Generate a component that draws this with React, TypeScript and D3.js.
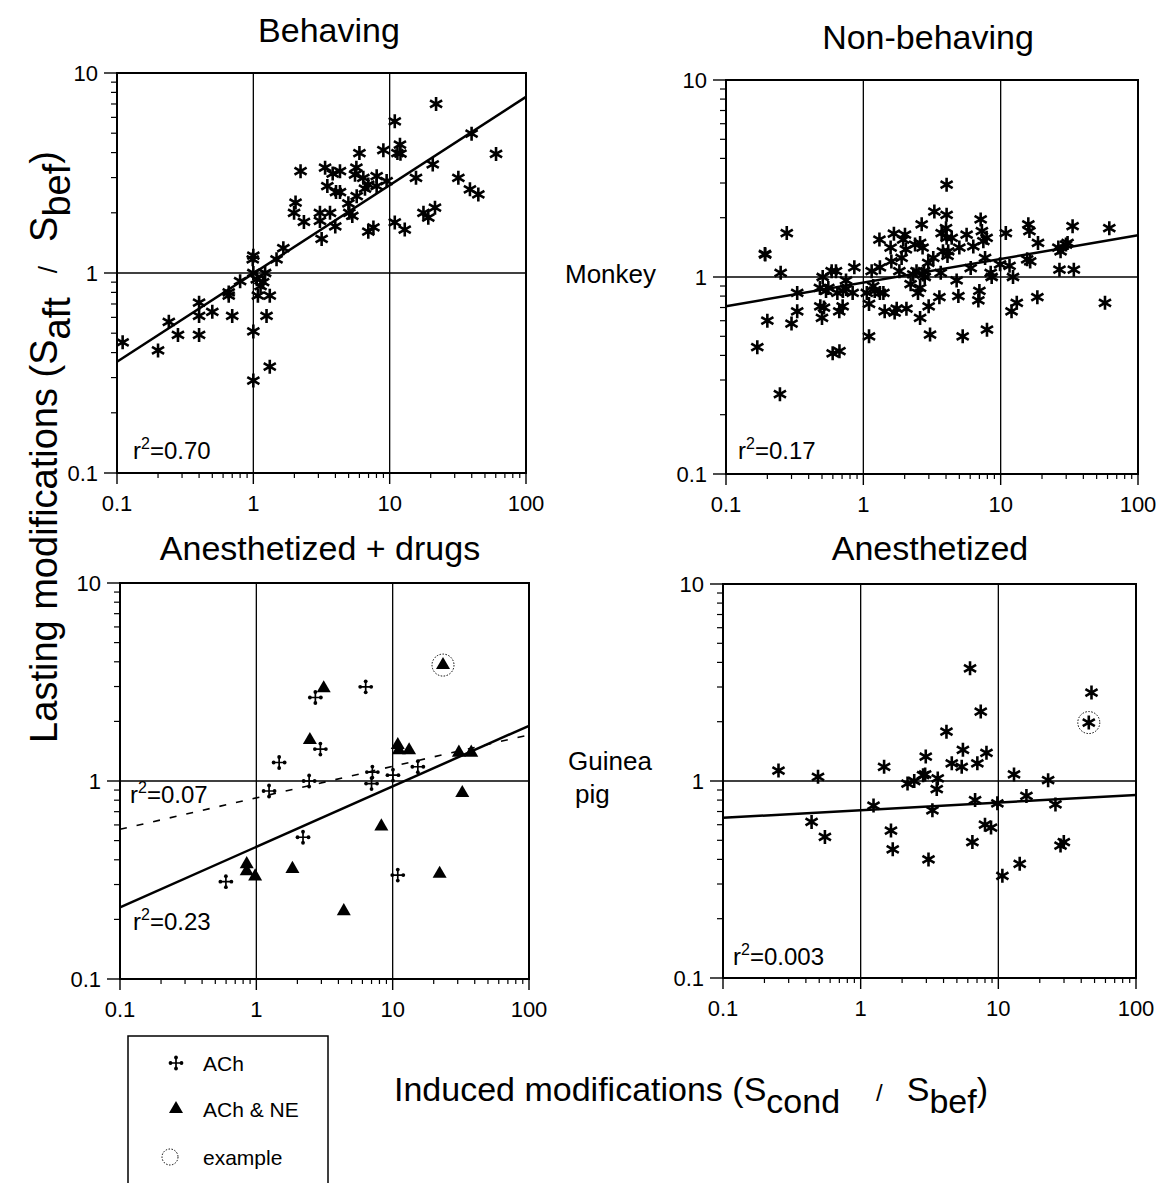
import React, { useEffect, useRef } from "react";
import * as d3 from "d3";

// values: [induced (Scond/Sbef), lasting (Saft/Sbef)]
type Pt = [number, number];

const behaving: Pt[] = [
  [0.11, 0.45], [0.2, 0.41], [0.24, 0.57], [0.28, 0.49], [0.4, 0.71], [0.4, 0.61], [0.4, 0.49],
  [0.5, 0.64], [0.66, 0.77], [0.66, 0.8], [0.7, 0.61], [0.8, 0.91], [0.99, 1.17], [1.0, 1.22],
  [1.0, 1.0], [1.0, 0.51], [1.0, 0.29], [1.06, 0.93], [1.08, 0.77], [1.13, 0.86], [1.18, 0.9],
  [1.22, 1.0], [1.32, 0.77], [1.25, 0.61], [1.32, 0.34], [1.48, 1.17], [1.66, 1.33], [2.04, 2.25],
  [1.99, 2.0], [2.22, 3.23], [2.35, 1.8], [3.08, 2.0], [3.08, 1.82], [3.17, 1.48], [3.36, 3.36],
  [3.49, 2.72], [3.65, 2.0], [3.82, 3.14], [4.04, 2.54], [4.32, 3.23], [4.32, 2.54], [3.99, 1.71],
  [4.98, 2.23], [5.06, 2.0], [5.32, 1.93], [5.73, 2.42], [5.7, 3.36], [6.0, 3.98], [5.57, 3.1],
  [6.41, 2.99], [6.59, 2.64], [6.97, 2.77], [6.97, 1.61], [7.6, 1.69], [8.03, 3.05], [8.03, 2.72],
  [8.99, 4.11], [9.5, 2.88], [10.9, 5.73], [10.9, 1.79], [11.4, 3.98], [11.9, 4.38], [12.0, 3.95],
  [12.9, 1.65], [15.6, 2.99], [17.7, 2.0], [19.2, 1.89], [20.7, 3.49], [21.5, 2.12], [21.9, 7.0],
  [31.9, 2.99], [38.8, 2.62], [39.9, 4.97], [44.7, 2.47], [60.3, 3.94],
];

const nonBehaving: Pt[] = [
  [0.169, 0.44], [0.192, 1.31], [0.193, 1.3], [0.2, 0.6], [0.247, 0.254], [0.25, 1.05], [0.277, 1.67],
  [0.3, 0.58], [0.33, 0.83], [0.33, 0.67], [0.483, 0.88], [0.486, 0.71], [0.5, 0.62], [0.506, 1.0],
  [0.517, 0.7], [0.535, 0.85], [0.556, 0.88], [0.588, 1.07], [0.598, 0.41], [0.632, 1.07],
  [0.647, 0.83], [0.668, 0.67], [0.67, 0.42], [0.707, 0.71], [0.71, 0.85], [0.748, 0.96],
  [0.75, 0.87], [0.836, 0.83], [0.86, 1.12], [1.06, 0.83], [1.1, 0.73], [1.1, 0.5], [1.15, 1.07],
  [1.18, 0.9], [1.21, 0.85], [1.31, 1.55], [1.32, 1.12], [1.32, 0.83], [1.4, 0.83], [1.43, 0.67],
  [1.58, 1.41], [1.6, 1.2], [1.67, 1.66], [1.69, 0.66], [1.75, 0.69], [1.83, 1.07], [1.9, 1.25],
  [1.95, 1.55], [2.01, 1.64], [2.04, 1.38], [2.06, 0.69], [2.21, 0.92], [2.31, 1.03], [2.38, 1.46],
  [2.44, 1.07], [2.5, 0.83], [2.59, 1.49], [2.59, 0.88], [2.66, 1.85], [2.7, 1.41], [2.72, 1.03],
  [2.77, 1.07], [2.8, 1.0], [2.59, 0.62], [2.97, 1.18], [2.99, 0.71], [3.06, 0.51], [3.23, 1.25],
  [3.29, 2.15], [3.58, 0.79], [3.66, 1.05], [3.72, 1.67], [3.8, 1.35], [4.0, 1.77], [4.04, 2.94],
  [4.04, 2.07], [4.04, 1.58], [4.1, 1.28], [4.15, 1.35], [4.4, 1.58], [4.78, 0.96], [4.92, 0.8],
  [5.0, 1.41], [5.29, 0.5], [5.65, 1.64], [6.05, 1.11], [6.32, 1.43], [6.88, 0.76], [7.0, 0.85],
  [7.15, 1.96], [7.3, 1.71], [7.48, 1.52], [7.7, 1.25], [7.9, 1.58], [7.95, 0.54], [8.46, 1.05],
  [8.6, 1.0], [9.9, 1.16], [10.9, 1.67], [11.6, 1.14], [12.0, 0.67], [12.3, 1.0], [13.1, 0.74],
  [15.6, 1.23], [15.9, 1.85], [16.2, 1.71], [16.4, 1.2], [18.5, 0.79], [18.7, 1.49], [26.3, 1.41],
  [26.8, 1.09], [27.3, 1.35], [29.9, 1.46], [30.7, 1.49], [33.4, 1.81], [34.1, 1.09], [57.5, 0.74],
  [61.8, 1.77],
];

const achOnly: Pt[] = [
  [0.598, 0.31], [1.24, 0.89], [1.47, 1.24], [2.2, 0.52], [2.44, 1.0], [2.71, 2.64], [2.95, 1.45],
  [6.34, 2.99], [7.1, 1.11], [7.0, 0.97], [10.05, 1.07], [10.9, 0.335], [15.3, 1.18],
];

const achNe: Pt[] = [
  [3.12, 2.94], [2.47, 1.61], [0.85, 0.38], [0.85, 0.35], [0.98, 0.33], [1.84, 0.36], [4.38, 0.22],
  [8.26, 0.59], [10.9, 1.52], [11.1, 1.43], [13.2, 1.43], [22.1, 0.34], [23.4, 3.85], [30.6, 1.39],
  [37.7, 1.39], [32.4, 0.87],
];

const anesthetized: Pt[] = [
  [0.253, 1.13], [0.49, 1.05], [0.44, 0.62], [0.55, 0.52], [1.24, 0.75], [1.48, 1.18], [1.66, 0.56],
  [1.71, 0.45], [2.19, 0.97], [2.45, 1.0], [2.84, 1.07], [2.97, 1.33], [2.94, 1.08], [3.11, 0.4],
  [3.32, 0.71], [3.63, 1.03], [3.57, 0.91], [4.2, 1.78], [4.59, 1.23], [5.42, 1.18], [5.53, 1.44],
  [6.23, 3.73], [6.48, 0.49], [6.78, 0.8], [7.04, 1.23], [7.45, 2.25], [8.0, 0.6], [8.2, 1.39],
  [8.85, 0.58], [9.84, 0.77], [10.7, 0.33], [13.0, 1.08], [14.3, 0.38], [16.0, 0.84], [23.0, 1.01],
  [26.0, 0.76], [28.3, 0.47], [29.9, 0.49], [47.5, 2.81], [45.4, 1.98],
];

// circled "example" cells
const drugsExample: Pt[] = [[23.4, 3.85]];
const anesthExample: Pt[] = [[45.4, 1.98]];

// regression lines, end points at x = 0.1 and x = 100
const behavingFit: Pt[] = [[0.1, 0.36], [100, 7.6]];
const nonBehavingFit: Pt[] = [[0.1, 0.71], [100, 1.63]];
const drugsFitSolid: Pt[] = [[0.1, 0.23], [100, 1.9]];
const drugsFitDashed: Pt[] = [[0.1, 0.57], [100, 1.71]];
const anesthFit: Pt[] = [[0.1, 0.65], [100, 0.85]];

const xTicks = [0.1, 1, 10, 100];
const yTicks = [0.1, 1, 10];
const tickLabel = (v: number) => (v < 1 ? "0.1" : String(v));

const FONT = "'Liberation Sans', Arial, Helvetica, sans-serif";

const panels = [
  {
    title: "Behaving", titleX: 329, titleY: 42,
    box: { left: 117, right: 526, top: 73, bottom: 473 },
    series: [{ data: behaving, marker: "star" }],
    fits: [{ line: behavingFit, dash: null }],
    examples: [] as Pt[],
    r2: [{ text: "0.70", dx: 16, y: 459 }],
  },
  {
    title: "Non-behaving", titleX: 928, titleY: 49,
    box: { left: 726, right: 1138, top: 80, bottom: 474 },
    series: [{ data: nonBehaving, marker: "star" }],
    fits: [{ line: nonBehavingFit, dash: null }],
    examples: [] as Pt[],
    r2: [{ text: "0.17", dx: 12, y: 459 }],
  },
  {
    title: "Anesthetized + drugs", titleX: 320, titleY: 560,
    box: { left: 120, right: 529, top: 583, bottom: 979 },
    series: [{ data: achOnly, marker: "cross" }, { data: achNe, marker: "triangle" }],
    fits: [{ line: drugsFitSolid, dash: null }, { line: drugsFitDashed, dash: "7,10" }],
    examples: drugsExample,
    r2: [{ text: "0.07", dx: 10, y: 803 }, { text: "0.23", dx: 13, y: 930 }],
  },
  {
    title: "Anesthetized", titleX: 930, titleY: 560,
    box: { left: 723, right: 1136, top: 584, bottom: 978 },
    series: [{ data: anesthetized, marker: "star" }],
    fits: [{ line: anesthFit, dash: null }],
    examples: anesthExample,
    r2: [{ text: "0.003", dx: 10, y: 965 }],
  },
];

// 6-armed asterisk like the printed one
const starPath = (() => {
  const r = 7;
  const c = r * Math.cos(Math.PI / 6), s = r * Math.sin(Math.PI / 6);
  return `M0,${-r}L0,${r}M${-c},${-s}L${c},${s}M${-c},${s}L${c},${-s}`;
})();

function drawMarker(g: any, kind: string) {
  if (kind === "star") {
    g.append("path").attr("d", starPath).attr("stroke", "#000").attr("stroke-width", 2.6).attr("fill", "none");
  } else if (kind === "cross") {
    g.append("path").attr("d", "M-6,0H6M0,-6V6").attr("stroke", "#000").attr("stroke-width", 1.7);
    [[-5.5, 0], [5.5, 0], [0, -5.5], [0, 5.5]].forEach(([cx, cy]) =>
      g.append("circle").attr("cx", cx).attr("cy", cy).attr("r", 1.9).attr("fill", "#000"));
  } else {
    g.append("path").attr("d", d3.symbol().type(d3.symbolTriangle).size(85)()).attr("fill", "#000");
  }
}

function drawPanel(svg: any, p: any) {
  const { left, right, top, bottom } = p.box;
  const x = d3.scaleLog().domain([0.1, 100]).range([left, right]);
  const y = d3.scaleLog().domain([0.1, 10]).range([bottom, top]);
  const g = svg.append("g");

  // title
  g.append("text").attr("x", p.titleX).attr("y", p.titleY).attr("text-anchor", "middle")
    .attr("font-size", 34).text(p.title);

  // minor ticks (outside, left and bottom)
  const minorX = d3.range(-1, 2).flatMap((e) => d3.range(2, 10).map((m) => m * 10 ** e));
  const minorY = d3.range(-1, 1).flatMap((e) => d3.range(2, 10).map((m) => m * 10 ** e));
  g.selectAll(".mx").data(minorX).enter().append("line")
    .attr("x1", (d: number) => x(d)).attr("x2", (d: number) => x(d))
    .attr("y1", bottom).attr("y2", bottom + 5).attr("stroke", "#000").attr("stroke-width", 1.2);
  g.selectAll(".my").data(minorY).enter().append("line")
    .attr("y1", (d: number) => y(d)).attr("y2", (d: number) => y(d))
    .attr("x1", left - 6).attr("x2", left).attr("stroke", "#000").attr("stroke-width", 1.2);

  // major ticks + labels
  g.selectAll(".tx").data(xTicks).enter().append("line")
    .attr("x1", (d: number) => x(d)).attr("x2", (d: number) => x(d))
    .attr("y1", bottom).attr("y2", bottom + 11).attr("stroke", "#000").attr("stroke-width", 1.4);
  g.selectAll(".lx").data(xTicks).enter().append("text")
    .attr("x", (d: number) => x(d)).attr("y", bottom + 38).attr("text-anchor", "middle")
    .attr("font-size", 22).text(tickLabel);
  g.selectAll(".ty").data(yTicks).enter().append("line")
    .attr("y1", (d: number) => y(d)).attr("y2", (d: number) => y(d))
    .attr("x1", left - 13).attr("x2", left).attr("stroke", "#000").attr("stroke-width", 1.4);
  g.selectAll(".ly").data(yTicks).enter().append("text")
    .attr("x", left - 19).attr("y", (d: number) => y(d)).attr("dy", "0.36em").attr("text-anchor", "end")
    .attr("font-size", 22).text(tickLabel);

  // grid at 1 and 10
  g.selectAll(".gx").data([1, 10]).enter().append("line")
    .attr("x1", (d: number) => x(d)).attr("x2", (d: number) => x(d))
    .attr("y1", top).attr("y2", bottom).attr("stroke", "#000").attr("stroke-width", 1.3);
  g.append("line").attr("x1", left).attr("x2", right).attr("y1", y(1)).attr("y2", y(1))
    .attr("stroke", "#000").attr("stroke-width", 1.3);

  // frame
  g.append("rect").attr("x", left).attr("y", top).attr("width", right - left).attr("height", bottom - top)
    .attr("fill", "none").attr("stroke", "#000").attr("stroke-width", 2);

  // regression lines
  const line = d3.line<Pt>().x((d) => x(d[0])).y((d) => y(d[1]));
  p.fits.forEach((f: any) => {
    g.append("path").attr("d", line(f.line)).attr("fill", "none").attr("stroke", "#000")
      .attr("stroke-width", f.dash ? 1.6 : 2.5).attr("stroke-dasharray", f.dash);
  });

  // points
  p.series.forEach((s: any) => {
    s.data.forEach((d: Pt) => {
      const m = g.append("g").attr("transform", `translate(${x(d[0])},${y(d[1])})`);
      drawMarker(m, s.marker);
    });
  });

  // example circles
  p.examples.forEach((d: Pt) => {
    g.append("circle").attr("cx", x(d[0])).attr("cy", y(d[1])).attr("r", 11)
      .attr("fill", "none").attr("stroke", "#000").attr("stroke-width", 1).attr("stroke-dasharray", "1.5,1.5");
  });

  // r^2 labels
  p.r2.forEach((r: any) => {
    const t = g.append("text").attr("x", left + r.dx).attr("y", r.y).attr("font-size", 24);
    t.append("tspan").text("r");
    t.append("tspan").attr("font-size", 16).attr("dy", -10).text("2");
    t.append("tspan").attr("dy", 10).text("=" + r.text);
  });
}

function drawLabels(svg: any) {
  // y axis title
  const yt = svg.append("text").attr("transform", "translate(57,447) rotate(-90)")
    .attr("text-anchor", "middle").attr("font-size", 38);
  yt.append("tspan").text("Lasting modifications (S");
  yt.append("tspan").attr("dy", 13).text("aft");
  yt.append("tspan").attr("dy", -13).attr("dx", 24).attr("font-size", 26).text("/");
  yt.append("tspan").attr("dx", 24).text("S");
  yt.append("tspan").attr("dy", 13).text("bef");
  yt.append("tspan").attr("dy", -13).text(")");

  // x axis title
  const xt = svg.append("text").attr("x", 394).attr("y", 1101).attr("font-size", 34);
  xt.append("tspan").text("Induced modifications (S");
  xt.append("tspan").attr("dy", 12).text("cond");
  xt.append("tspan").attr("dy", -12).attr("dx", 36).attr("font-size", 24).text("/");
  xt.append("tspan").attr("dx", 24).text("S");
  xt.append("tspan").attr("dy", 12).text("bef");
  xt.append("tspan").attr("dy", -12).text(")");

  // species
  svg.append("text").attr("x", 565).attr("y", 283).attr("font-size", 26).text("Monkey");
  svg.append("text").attr("x", 568).attr("y", 770).attr("font-size", 26).text("Guinea");
  svg.append("text").attr("x", 575).attr("y", 803).attr("font-size", 26).text("pig");
}

function drawLegend(svg: any) {
  const g = svg.append("g");
  g.append("rect").attr("x", 128).attr("y", 1036).attr("width", 200).attr("height", 170)
    .attr("fill", "none").attr("stroke", "#000").attr("stroke-width", 1.5);
  const items = [
    { kind: "cross", label: "ACh", y: 1063 },
    { kind: "triangle", label: "ACh & NE", y: 1109 },
    { kind: "example", label: "example", y: 1157 },
  ];
  items.forEach((it) => {
    if (it.kind === "example") {
      g.append("circle").attr("cx", 170).attr("cy", it.y).attr("r", 8).attr("fill", "none")
        .attr("stroke", "#000").attr("stroke-width", 1).attr("stroke-dasharray", "1.5,1.5");
    } else {
      drawMarker(g.append("g").attr("transform", `translate(176,${it.y})`), it.kind);
    }
    g.append("text").attr("x", 203).attr("y", it.y).attr("dy", "0.36em").attr("font-size", 21).text(it.label);
  });
}

export default function App() {
  const ref = useRef<SVGSVGElement>(null);

  useEffect(() => {
    const svg = d3.select(ref.current);
    svg.selectAll("*").remove();
    panels.forEach((p) => drawPanel(svg, p));
    drawLabels(svg);
    drawLegend(svg);
  }, []);

  return (
    <svg
      ref={ref}
      width={1159}
      height={1183}
      style={{ position: "absolute", left: 0, top: 0, background: "#fff", fontFamily: FONT }}
    />
  );
}
